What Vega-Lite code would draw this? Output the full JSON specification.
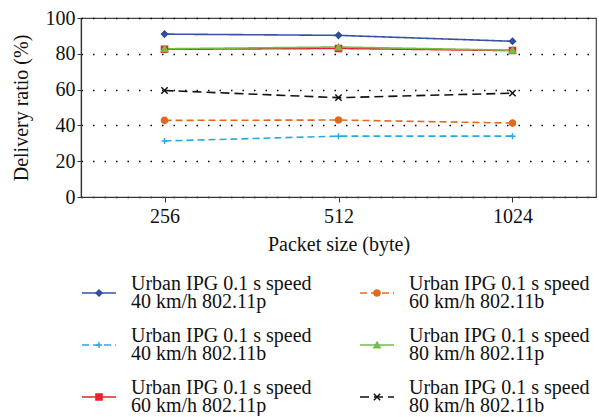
{
  "$schema": "https://vega.github.io/schema/vega-lite/v6.json",
  "padding": {"left": 10, "top": 7, "right": 0, "bottom": 0},
  "spacing": 0,
  "config": {
    "font": "Liberation Serif",
    "view": {"stroke": "#444", "strokeWidth": 1.2},
    "axis": {"labelFont": "Liberation Serif", "titleFont": "Liberation Serif", "labelFontSize": 20, "titleFontSize": 20, "titleFontWeight": "normal", "labelColor": "#111", "titleColor": "#111", "domainColor": "#333", "tickColor": "#333", "domainWidth": 1.2}
  },
  "datasets": {
    "pts": [
      {"series": "40p", "size": "256", "value": 91},
      {"series": "40p", "size": "512", "value": 90.3},
      {"series": "40p", "size": "1024", "value": 87},
      {"series": "40b", "size": "256", "value": 31.3},
      {"series": "40b", "size": "512", "value": 34},
      {"series": "40b", "size": "1024", "value": 34},
      {"series": "60p", "size": "256", "value": 82.5},
      {"series": "60p", "size": "512", "value": 83},
      {"series": "60p", "size": "1024", "value": 81.8},
      {"series": "60b", "size": "256", "value": 42.8},
      {"series": "60b", "size": "512", "value": 43},
      {"series": "60b", "size": "1024", "value": 41.3},
      {"series": "80p", "size": "256", "value": 82.8},
      {"series": "80p", "size": "512", "value": 83.8},
      {"series": "80p", "size": "1024", "value": 82},
      {"series": "80b", "size": "256", "value": 59.5},
      {"series": "80b", "size": "512", "value": 55.5},
      {"series": "80b", "size": "1024", "value": 58}
    ],
    "leg": [
      {"series": "40p", "col": 0, "row": 0, "label": "Urban IPG 0.1 s speed\n40 km/h 802.11p"},
      {"series": "40b", "col": 0, "row": 1, "label": "Urban IPG 0.1 s speed\n40 km/h 802.11b"},
      {"series": "60p", "col": 0, "row": 2, "label": "Urban IPG 0.1 s speed\n60 km/h 802.11p"},
      {"series": "60b", "col": 1, "row": 0, "label": "Urban IPG 0.1 s speed\n60 km/h 802.11b"},
      {"series": "80p", "col": 1, "row": 1, "label": "Urban IPG 0.1 s speed\n80 km/h 802.11p"},
      {"series": "80b", "col": 1, "row": 2, "label": "Urban IPG 0.1 s speed\n80 km/h 802.11b"}
    ]
  },
  "vconcat": [
    {
      "width": 515,
      "height": 179,
      "data": {"name": "pts"},
      "encoding": {
        "x": {"field": "size", "type": "ordinal", "sort": ["256", "512", "1024"], "scale": {"type": "point", "padding": 0.48},
          "axis": {"title": "Packet size (byte)", "labelAngle": 0, "labelPadding": 4, "titlePadding": 8, "tickSize": 5, "grid": false}},
        "y": {"field": "value", "type": "quantitative", "scale": {"domain": [0, 100]},
          "axis": {"title": "Delivery ratio (%)", "values": [0, 20, 40, 60, 80, 100], "grid": true, "gridDash": [1.5, 10], "gridColor": "#000", "gridWidth": 1.3, "tickSize": 4, "labelPadding": 2, "titlePadding": 14}}
      },
      "layer": [
        {
          "mark": {"type": "line", "strokeWidth": 1.6},
          "encoding": {
            "color": {"field": "series", "type": "nominal", "legend": null,
              "scale": {"domain": ["40p", "40b", "60p", "60b", "80p", "80b"], "range": ["#3553a5", "#2aa9e0", "#e8232b", "#e2691f", "#72bf44", "#111111"]}},
            "strokeDash": {"field": "series", "type": "nominal", "legend": null,
              "scale": {"domain": ["40p", "40b", "60p", "60b", "80p", "80b"], "range": [[1, 0], [7, 4], [1, 0], [7, 4], [1, 0], [9, 5]]}}
          }
        },
        {
          "mark": {"type": "point", "filled": true, "opacity": 1, "strokeWidth": 1.5},
          "encoding": {
            "color": {"field": "series", "type": "nominal", "legend": null,
              "scale": {"domain": ["40p", "40b", "60p", "60b", "80p", "80b"], "range": ["#2b4a9c", "#2aa9e0", "#e8232b", "#e2691f", "#72bf44", "#111111"]}},
            "stroke": {"field": "series", "type": "nominal", "legend": null,
              "scale": {"domain": ["40p", "40b", "60p", "60b", "80p", "80b"], "range": ["#2b4a9c", "#2aa9e0", "#e8232b", "#e2691f", "#72bf44", "#111111"]}},
            "shape": {"field": "series", "type": "nominal", "legend": null,
              "scale": {"domain": ["40p", "40b", "60p", "60b", "80p", "80b"], "range": ["diamond", "M-1,0H1M0,-1V1", "square", "circle", "triangle-up", "M-1,-1L1,1M-1,1L1,-1"]}},
            "size": {"field": "series", "type": "nominal", "legend": null,
              "scale": {"domain": ["40p", "40b", "60p", "60b", "80p", "80b"], "range": [35, 40, 80, 70, 70, 35]}}
          }
        }
      ]
    },
    {
      "width": 515,
      "height": 150,
      "view": {"stroke": null},
      "data": {"name": "leg"},
      "encoding": {
        "x": {"field": "col", "type": "ordinal", "scale": {"type": "point", "range": [18, 296], "padding": 0}, "axis": null},
        "y": {"field": "row", "type": "ordinal", "scale": {"type": "point", "range": [38, 142], "padding": 0}, "axis": null}
      },
      "layer": [
        {
          "mark": {"type": "rule", "strokeWidth": 1.6, "xOffset": -17, "x2Offset": 17},
          "encoding": {
            "x2": {"field": "col"},
            "color": {"field": "series", "type": "nominal", "legend": null,
              "scale": {"domain": ["40p", "40b", "60p", "60b", "80p", "80b"], "range": ["#3553a5", "#2aa9e0", "#e8232b", "#e2691f", "#72bf44", "#111111"]}},
            "strokeDash": {"field": "series", "type": "nominal", "legend": null,
              "scale": {"domain": ["40p", "40b", "60p", "60b", "80p", "80b"], "range": [[1, 0], [7, 4], [1, 0], [7, 4], [1, 0], [9, 5]]}}
          }
        },
        {
          "mark": {"type": "point", "filled": true, "opacity": 1, "strokeWidth": 1.5},
          "encoding": {
            "color": {"field": "series", "type": "nominal", "legend": null,
              "scale": {"domain": ["40p", "40b", "60p", "60b", "80p", "80b"], "range": ["#2b4a9c", "#2aa9e0", "#e8232b", "#e2691f", "#72bf44", "#111111"]}},
            "stroke": {"field": "series", "type": "nominal", "legend": null,
              "scale": {"domain": ["40p", "40b", "60p", "60b", "80p", "80b"], "range": ["#2b4a9c", "#2aa9e0", "#e8232b", "#e2691f", "#72bf44", "#111111"]}},
            "shape": {"field": "series", "type": "nominal", "legend": null,
              "scale": {"domain": ["40p", "40b", "60p", "60b", "80p", "80b"], "range": ["diamond", "M-1,0H1M0,-1V1", "square", "circle", "triangle-up", "M-1,-1L1,1M-1,1L1,-1"]}},
            "size": {"field": "series", "type": "nominal", "legend": null,
              "scale": {"domain": ["40p", "40b", "60p", "60b", "80p", "80b"], "range": [35, 40, 80, 70, 70, 35]}}
          }
        },
        {
          "mark": {"type": "text", "align": "left", "baseline": "middle", "dx": 32, "dy": -9, "fontSize": 20, "lineHeight": 18, "lineBreak": "\n", "color": "#111"},
          "encoding": {"text": {"field": "label"}}
        }
      ]
    }
  ]
}
